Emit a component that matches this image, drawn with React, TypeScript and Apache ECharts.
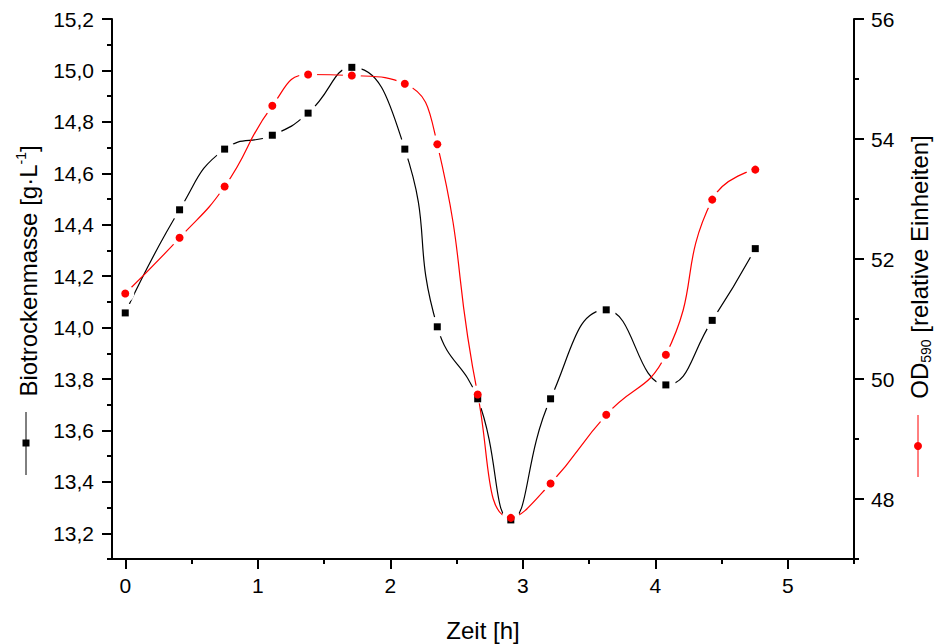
import React, { useEffect, useRef } from "react";
import * as echarts from "echarts";

// ---- data ----
const times = [0, 0.41, 0.75, 1.11, 1.38, 1.71, 2.11, 2.355, 2.66, 2.91, 3.21, 3.63, 4.08, 4.43, 4.755];
const biomass = [14.057, 14.458, 14.694, 14.748, 14.834, 15.012, 14.694, 14.003, 13.723, 13.252, 13.723, 14.069, 13.777, 14.028, 14.307];
const od590 = [51.425, 52.353, 53.208, 54.553, 55.075, 55.058, 54.92, 53.913, 49.742, 47.686, 48.258, 49.403, 50.403, 52.99, 53.49];

const xMajorTicks = [0, 1, 2, 3, 4, 5];
const xMinorTicks = [0.5, 1.5, 2.5, 3.5, 4.5, 5.5];
const leftMajorTicks = [13.2, 13.4, 13.6, 13.8, 14.0, 14.2, 14.4, 14.6, 14.8, 15.0, 15.2];
const leftMinorTicks = [13.1, 13.3, 13.5, 13.7, 13.9, 14.1, 14.3, 14.5, 14.7, 14.9, 15.1];
const rightMajorTicks = [48, 50, 52, 54, 56];
const rightMinorTicks = [47, 49, 51, 53, 55];

const FONT = "'Liberation Sans', Arial, Helvetica, sans-serif";
const BLACK = "#000000";
const RED = "#ff0000";
const HALO = "#ffffff";

function pairs(xs: number[], ys: number[]) {
  return xs.map((x, i) => [x, ys[i]]);
}

export default function App() {
  const ref = useRef<HTMLDivElement>(null);

  useEffect(() => {
    if (!ref.current) return;
    const chart = echarts.init(ref.current, null, { renderer: "svg" });

    const axisLineStyle = { color: BLACK, width: 2 };
    const tickLabel = { color: BLACK, fontSize: 21, fontFamily: FONT };

    const majorAxis = (extra: any) => ({
      type: "value",
      splitLine: { show: false },
      axisLine: { show: true, onZero: false, lineStyle: axisLineStyle },
      ...extra,
    });
    const minorAxis = (extra: any) => ({
      type: "value",
      splitLine: { show: false },
      axisLine: { show: false, onZero: false },
      axisLabel: { show: false },
      ...extra,
    });

    const option: any = {
      animation: false,
      backgroundColor: "#ffffff",
      grid: { left: 112, right: 80, top: 19, bottom: 85, containLabel: false, outerBoundsMode: "none" },
      xAxis: [
        majorAxis({
          position: "bottom",
          min: -0.1,
          max: 5.5,
          axisTick: { show: true, length: 10, lineStyle: { color: BLACK, width: 2 }, customValues: xMajorTicks },
          axisLabel: { ...tickLabel, margin: 16, customValues: xMajorTicks, formatter: (v: number) => String(v) },
        }),
        minorAxis({
          position: "bottom",
          min: -0.1,
          max: 5.5,
          axisTick: { show: true, length: 5, lineStyle: { color: BLACK, width: 2 }, customValues: xMinorTicks },
        }),
      ],
      yAxis: [
        majorAxis({
          position: "left",
          min: 13.1,
          max: 15.2,
          axisTick: { show: true, length: 10, lineStyle: { color: BLACK, width: 2 }, customValues: leftMajorTicks },
          axisLabel: {
            ...tickLabel,
            margin: 18,
            customValues: leftMajorTicks,
            formatter: (v: number) => v.toFixed(1).replace(".", ","),
          },
        }),
        minorAxis({
          position: "left",
          min: 13.1,
          max: 15.2,
          axisTick: { show: true, length: 5, lineStyle: { color: BLACK, width: 2 }, customValues: leftMinorTicks },
        }),
        majorAxis({
          position: "right",
          min: 47,
          max: 56,
          axisTick: { show: true, length: 10, lineStyle: { color: BLACK, width: 2 }, customValues: rightMajorTicks },
          axisLabel: { ...tickLabel, margin: 17, customValues: rightMajorTicks, formatter: (v: number) => String(v) },
        }),
        minorAxis({
          position: "right",
          min: 47,
          max: 56,
          axisTick: { show: true, length: 5, lineStyle: { color: BLACK, width: 2 }, customValues: rightMinorTicks },
        }),
      ],
      series: [
        {
          type: "line",
          name: "Biotrockenmasse",
          xAxisIndex: 0,
          yAxisIndex: 0,
          data: pairs(times, biomass),
          smooth: 0.5,
          showSymbol: false,
          lineStyle: { color: BLACK, width: 1.2 },
          z: 1,
        },
        {
          type: "scatter",
          xAxisIndex: 0,
          yAxisIndex: 0,
          data: pairs(times, biomass),
          symbol: "circle",
          symbolSize: 20,
          itemStyle: { color: HALO, opacity: 1 },
          z: 2,
          silent: true,
        },
        {
          type: "line",
          name: "OD590",
          xAxisIndex: 0,
          yAxisIndex: 2,
          data: pairs(times, od590),
          smooth: 0.5,
          showSymbol: false,
          lineStyle: { color: RED, width: 1.2 },
          z: 3,
        },
        {
          type: "scatter",
          xAxisIndex: 0,
          yAxisIndex: 2,
          data: pairs(times, od590),
          symbol: "circle",
          symbolSize: 18,
          itemStyle: { color: HALO, opacity: 1 },
          z: 4,
          silent: true,
        },
        {
          type: "scatter",
          xAxisIndex: 0,
          yAxisIndex: 0,
          data: pairs(times, biomass),
          symbol: "rect",
          symbolSize: 7,
          itemStyle: { color: BLACK, opacity: 1 },
          z: 5,
        },
        {
          type: "scatter",
          xAxisIndex: 0,
          yAxisIndex: 2,
          data: pairs(times, od590),
          symbol: "circle",
          symbolSize: 8,
          itemStyle: { color: RED, opacity: 1 },
          z: 6,
        },
      ],
      graphic: [
        {
          type: "text",
          x: 483,
          y: 630,
          style: {
            text: "Zeit [h]",
            fill: BLACK,
            font: `24px ${FONT}`,
            align: "center",
            verticalAlign: "middle",
          },
        },
        {
          type: "text",
          x: 28,
          y: 271,
          rotation: Math.PI / 2,
          style: {
            text: "Biotrockenmasse [g·L{sup|-1}]",
            fill: BLACK,
            font: `24px ${FONT}`,
            align: "center",
            verticalAlign: "middle",
            rich: {
              sup: { fontSize: 14, fontFamily: FONT, fill: BLACK, verticalAlign: "top", lineHeight: 28 },
            },
          },
        },
        {
          type: "line",
          shape: { x1: 26, y1: 412, x2: 26, y2: 475 },
          style: { stroke: BLACK, lineWidth: 1 },
        },
        {
          type: "rect",
          shape: { x: 22.5, y: 439.5, width: 7, height: 7 },
          style: { fill: BLACK },
        },
        {
          type: "text",
          x: 919,
          y: 267,
          rotation: Math.PI / 2,
          style: {
            text: "OD{sub|590} [relative Einheiten]",
            fill: BLACK,
            font: `24px ${FONT}`,
            align: "center",
            verticalAlign: "middle",
            rich: {
              sub: { fontSize: 14, fontFamily: FONT, fill: BLACK, verticalAlign: "bottom", lineHeight: 28 },
            },
          },
        },
        {
          type: "line",
          shape: { x1: 918, y1: 415, x2: 918, y2: 477 },
          style: { stroke: RED, lineWidth: 1 },
        },
        {
          type: "circle",
          shape: { cx: 918, cy: 446, r: 4 },
          style: { fill: RED },
        },
      ],
    };

    chart.setOption(option);
    return () => chart.dispose();
  }, []);

  return (
    <div
      ref={ref}
      style={{ position: "fixed", left: 0, top: 0, width: 934, height: 644, background: "#fff" }}
    />
  );
}
